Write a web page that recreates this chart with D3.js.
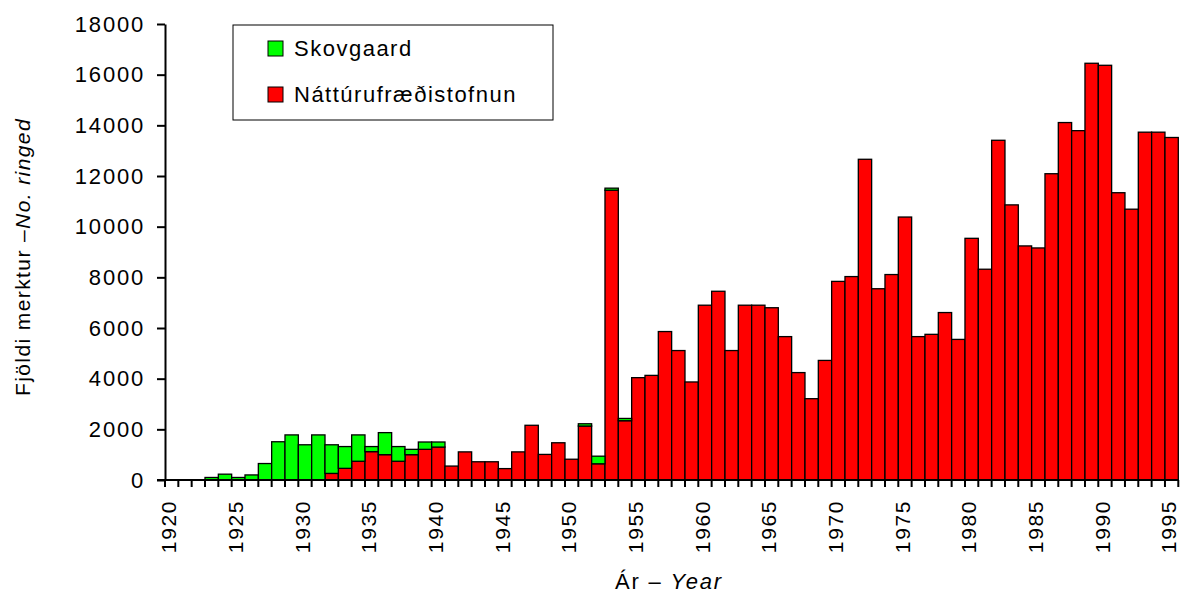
<!DOCTYPE html>
<html>
<head>
<meta charset="utf-8">
<script src="https://cdn.jsdelivr.net/npm/d3@7"></script>
<style>
  body { margin: 0; background: #fff; }
  svg text { font-family: "Liberation Sans", Arial, sans-serif; fill: #000; }
</style>
</head>
<body>
<svg id="chart" width="1180" height="596"></svg>
<script>
// years on the category axis
var years = [1920,1921,1922,1923,1924,1925,1926,1927,1928,1929,
             1930,1931,1932,1933,1934,1935,1936,1937,1938,1939,
             1940,1941,1942,1943,1944,1945,1946,1947,1948,1949,
             1950,1951,1952,1953,1954,1955,1956,1957,1958,1959,
             1960,1961,1962,1963,1964,1965,1966,1967,1968,1969,
             1970,1971,1972,1973,1974,1975,1976,1977,1978,1979,
             1980,1981,1982,1983,1984,1985,1986,1987,1988,1989,
             1990,1991,1992,1993,1994,1995];

// Náttúrufræðistofnun (red, bottom of stack)
var nattura = [0,0,0,0,0,0,0,0,0,0,
               0,0,260,460,740,1120,1000,740,1000,1210,
               1300,550,1110,720,720,450,1110,2160,1010,1470,
               820,2130,640,11440,2340,4040,4130,5860,5110,3870,
               6900,7450,5110,6900,6900,6800,5660,4240,3210,4720,
               7840,8030,12660,7550,8110,10380,5660,5750,6610,5550,
               9540,8320,13410,10860,9240,9160,12090,14110,13790,16450,
               16370,11340,10690,13730,13730,13520];

// Skovgaard (green, on top)
var skovgaard = [0,0,0,100,230,100,200,650,1510,1780,
                 1390,1780,1130,860,1040,200,870,580,210,290,
                 200,0,0,0,0,0,0,0,0,0,
                 0,90,300,80,90,0,0,0,0,0,
                 0,0,0,0,0,0,0,0,0,0,
                 0,0,0,0,0,0,0,0,0,0,
                 0,0,0,0,0,0,0,0,0,0,
                 0,0,0,0,0,0];

var yTicks = [0,2000,4000,6000,8000,10000,12000,14000,16000,18000];
var seriesNames = ["Skovgaard","Náttúrufræðistofnun"];
var colors = {"Skovgaard":"#00ff00","Náttúrufræðistofnun":"#ff0000"};

(function(){
  var svg = d3.select("#chart");
  var plotLeft = 165, plotRight = 1178.3, plotTop = 24, plotBottom = 480;

  var x = d3.scaleBand().domain(years).range([plotLeft, plotRight]).padding(0);
  var y = d3.scaleLinear().domain([0,18000]).range([plotBottom, plotTop]);

  var rows = years.map(function(yr, i){
    return {year: yr, "Náttúrufræðistofnun": nattura[i], "Skovgaard": skovgaard[i]};
  });
  var layers = d3.stack().keys(["Náttúrufræðistofnun","Skovgaard"])(rows);

  // bars
  svg.selectAll("g.layer")
    .data(layers)
    .enter().append("g")
    .attr("class","layer")
    .attr("fill", function(d){ return colors[d.key]; })
    .selectAll("rect")
    .data(function(d){ return d.filter(function(s){ return s[1] - s[0] > 0; }); })
    .enter().append("rect")
    .attr("x", function(d){ return x(d.data.year); })
    .attr("width", x.bandwidth())
    .attr("y", function(d){ return y(d[1]); })
    .attr("height", function(d){ return y(d[0]) - y(d[1]); })
    .attr("stroke","#000")
    .attr("stroke-width",1.3);

  // y axis
  var yAxis = svg.append("g")
    .attr("transform","translate(" + plotLeft + ",0)")
    .call(d3.axisLeft(y).tickValues(yTicks).tickFormat(d3.format("d"))
      .tickSize(8).tickSizeOuter(0).tickPadding(12));
  yAxis.select(".domain").attr("stroke","#000").attr("stroke-width",2);
  yAxis.selectAll(".tick line").attr("stroke","#000").attr("stroke-width",2);
  yAxis.selectAll("text")
    .style("font-size","22px")
    .style("letter-spacing","1.8px");

  // x axis: labels at every fifth year
  var xAxis = svg.append("g")
    .attr("transform","translate(0," + plotBottom + ")")
    .call(d3.axisBottom(x)
      .tickValues(years.filter(function(d){ return d % 5 === 0; }))
      .tickSize(0).tickSizeOuter(0));
  xAxis.select(".domain").remove();
  xAxis.selectAll("text")
    .attr("transform","rotate(-90)")
    .attr("x",-20)
    .attr("y",0)
    .attr("dy","0.22em")
    .attr("text-anchor","end")
    .style("font-size","21px")
    .style("letter-spacing","1.6px");

  // category boundary ticks
  var edges = years.map(function(d){ return x(d); }).concat([plotRight]);
  svg.append("g")
    .selectAll("line")
    .data(edges)
    .enter().append("line")
    .attr("x1", function(d){ return d; })
    .attr("x2", function(d){ return d; })
    .attr("y1", plotBottom)
    .attr("y2", plotBottom + 7)
    .attr("stroke","#000")
    .attr("stroke-width",2);
  svg.append("line")
    .attr("x1", plotLeft - 8).attr("x2", plotRight)
    .attr("y1", plotBottom).attr("y2", plotBottom)
    .attr("stroke","#000").attr("stroke-width",2);

  // axis titles
  var yTitle = svg.append("text")
    .attr("transform","translate(30,257) rotate(-90)")
    .attr("text-anchor","middle")
    .style("font-size","21px")
    .style("letter-spacing","1.4px");
  yTitle.append("tspan").text("Fjöldi merktur –");
  yTitle.append("tspan").style("font-style","italic").text("No. ringed");

  var xTitle = svg.append("text")
    .attr("x",669).attr("y",589)
    .attr("text-anchor","middle")
    .style("font-size","22px")
    .style("letter-spacing","1.8px");
  xTitle.append("tspan").text("Ár – ");
  xTitle.append("tspan").style("font-style","italic").text("Year");

  // legend
  var legend = svg.append("g");
  legend.append("rect")
    .attr("x",233).attr("y",25).attr("width",320).attr("height",95)
    .attr("fill","#fff").attr("stroke","#000").attr("stroke-width",1);
  var items = legend.selectAll("g.item")
    .data(seriesNames)
    .enter().append("g")
    .attr("class","item")
    .attr("transform", function(d,i){ return "translate(268," + (41 + i*46) + ")"; });
  items.append("rect")
    .attr("width",15).attr("height",15)
    .attr("fill", function(d){ return colors[d]; })
    .attr("stroke","#000").attr("stroke-width",1);
  items.append("text")
    .attr("x",26).attr("y",15)
    .style("font-size","22px")
    .style("letter-spacing","1.5px")
    .text(function(d){ return d; });
})();
</script>
</body>
</html>
